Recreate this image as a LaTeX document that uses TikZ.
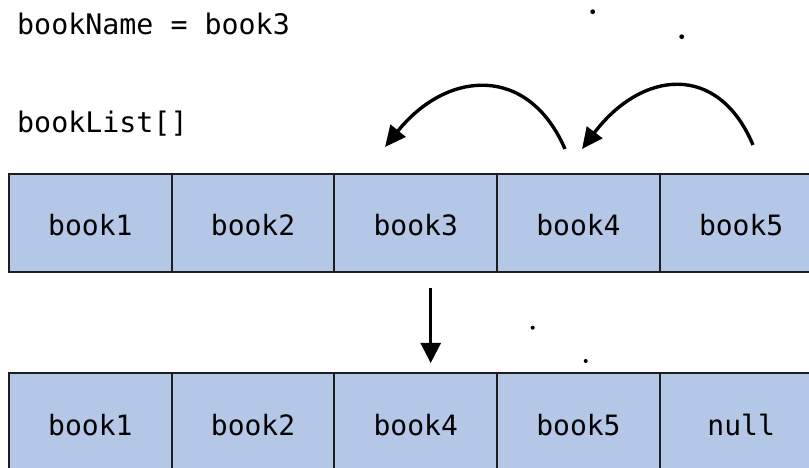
\documentclass[tikz,border=0pt]{standalone}
\usepackage{fontspec}
\setmonofont{DejaVu Sans Mono}
\usetikzlibrary{arrows.meta}
\definecolor{cellblue}{RGB}{180,199,231}
\definecolor{edge}{RGB}{30,30,30}
\tikzset{
  cell/.style={draw=edge, line width=1.9bp, fill=cellblue, minimum width=162.7bp,
    minimum height=98bp, inner sep=0pt, text height=25.4bp, text depth=0pt,
    font=\ttfamily\fontsize{28bp}{32bp}\selectfont},
  lbl/.style={anchor=base west, inner sep=0pt, font=\ttfamily\fontsize{28.3bp}{34bp}\selectfont},
  curvearrow/.style={line width=3.4bp, -{Triangle[length=21bp,width=19bp]}},
  downarrow/.style={line width=2.6bp, -{Triangle[length=20bp,width=20bp]}},
  dotmark/.style={fill=black}
}
\begin{document}
\begin{tikzpicture}[x=1bp,y=-1bp]
\useasboundingbox (0,0) rectangle (809,468);
\clip (0,0) rectangle (809,468);
\fill[white] (0,0) rectangle (809,468);

\node[lbl] (name) at (17,35) {bookName = book3};
\node[lbl] (list) at (17,133) {bookList[]};

% top array
\node[cell] (t1) at (90.35,223) {book1};
\node[cell] (t2) at (253.05,223) {book2};
\node[cell] (t3) at (415.75,223) {book3};
\node[cell] (t4) at (578.45,223) {book4};
\node[cell] (t5) at (741.15,223) {book5};

% bottom array
\node[cell] (b1) at (90.35,422.3) {book1};
\node[cell] (b2) at (253.05,422.3) {book2};
\node[cell] (b3) at (415.75,422.3) {book4};
\node[cell] (b4) at (578.45,422.3) {book5};
\node[cell] (b5) at (741.15,422.3) {null};

% curved arrows
\coordinate (a1s) at (565,149);
\coordinate (a1e) at (385,147);
\coordinate (a2s) at (753,145);
\coordinate (a2e) at (582,149);
\draw[curvearrow] (a1s) .. controls (528,64) and (447,70) .. (a1e);
\draw[curvearrow] (a2s) .. controls (718,62) and (642,70) .. (a2e);

% down arrow
\coordinate (ds) at (430.7,288);
\coordinate (de) at (430.7,363);
\draw[downarrow] (ds) -- (de);

% dots
\fill[dotmark] (592.7,11.7) circle (2.4bp);
\fill[dotmark] (681.7,36.7) circle (2.4bp);
\fill[dotmark] (532.7,327.7) circle (2bp);
\fill[dotmark] (585.7,361) circle (2bp);
\end{tikzpicture}
\end{document}
